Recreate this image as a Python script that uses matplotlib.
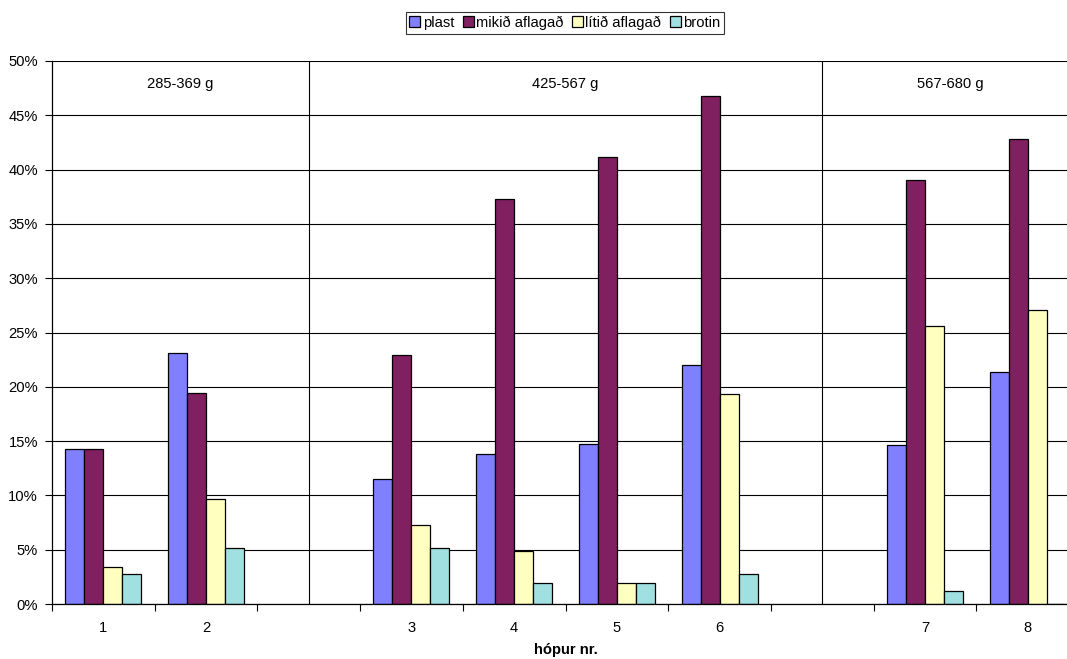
import matplotlib
matplotlib.use("Agg")
import matplotlib.pyplot as plt
from matplotlib.ticker import PercentFormatter, FixedLocator, NullFormatter
import numpy as np

# Category slots along the x axis; empty strings are spacer slots between weight classes
slots = ["1", "2", "", "3", "4", "5", "6", "", "7", "8"]
groups = ["1", "2", "3", "4", "5", "6", "7", "8"]

# Share of fish per condition (%)
plast = [14.3, 23.1, 11.5, 13.8, 14.7, 22.0, 14.6, 21.4]
mikid = [14.3, 19.4, 22.9, 37.3, 41.2, 46.8, 39.0, 42.8]
litid = [3.4, 9.7, 7.3, 4.9, 1.9, 19.3, 25.6, 27.1]
brotin = [2.8, 5.2, 5.2, 1.9, 1.9, 2.8, 1.2, 0.0]

series_names = ["plast", "mikið aflagað", "lítið aflagað", "brotin"]
series_colors = ["#8080FF", "#802060", "#FFFFC0", "#A0E0E0"]
weight_classes = ["285-369 g", "425-567 g", "567-680 g"]

plt.rcParams["font.family"] = ["Liberation Sans", "DejaVu Sans"]

fig = plt.figure(figsize=(10.67, 6.59), dpi=100)
ax = fig.add_axes([52 / 1067, 1 - 604 / 659, (1079 - 52) / 1067, (604 - 61) / 659])

slot_pos = np.arange(len(slots))
group_pos = np.array([i for i, s in enumerate(slots) if s != ""])
spacers = [i for i, s in enumerate(slots) if s == ""]

bw = 0.185
data = [plast, mikid, litid, brotin]
for k, (vals, name, col) in enumerate(zip(data, series_names, series_colors)):
    offs = (k - 1.5) * bw
    ax.bar(group_pos + offs, vals, width=bw, color=col, edgecolor="black",
           linewidth=0.9, label=name, zorder=3)

ax.set_xlim(-0.5, len(slots) - 0.5)
ax.set_ylim(0, 50)

# horizontal gridlines
ax.yaxis.grid(True, color="black", linewidth=0.8, zorder=1)
ax.set_axisbelow(True)

# vertical separators between weight classes
for s in spacers:
    ax.axvline(s, color="black", linewidth=0.8, zorder=1)

# weight class labels centred in each section
bounds = [-0.5] + spacers + [len(slots) - 0.5]
for lab, a, b in zip(weight_classes, bounds[:-1], bounds[1:]):
    ax.text((a + b) / 2, 47.9, lab, ha="center", va="center", fontsize=10.6, zorder=4)

ax.yaxis.set_major_locator(FixedLocator(np.arange(0, 51, 5)))
ax.yaxis.set_major_formatter(PercentFormatter(100, decimals=0))
ax.tick_params(axis="y", direction="out", length=5, width=0.8, pad=5, labelsize=10.6)

ax.xaxis.set_major_locator(FixedLocator(np.arange(-0.5, len(slots), 1.0)))
ax.xaxis.set_major_formatter(NullFormatter())
ax.xaxis.set_minor_locator(FixedLocator(slot_pos))
ax.set_xticklabels(slots, minor=True)
ax.tick_params(axis="x", which="major", direction="out", length=5, width=0.8)
ax.tick_params(axis="x", which="minor", length=0, pad=12, labelsize=10.6)

ax.set_xlabel("hópur nr.", fontweight="bold", fontsize=10.6, labelpad=6)

for sp in ["top", "right"]:
    ax.spines[sp].set_visible(False)
for sp in ["left", "bottom"]:
    ax.spines[sp].set_color("black")
    ax.spines[sp].set_linewidth(0.9)
    ax.spines[sp].set_zorder(5)

leg = fig.legend(loc="upper center", bbox_to_anchor=(565 / 1067, 1 - 12 / 659), ncol=4,
                 fontsize=10.6, frameon=True, fancybox=False, edgecolor="black",
                 handlelength=0.75, handleheight=0.75, handletextpad=0.15,
                 columnspacing=0.6, borderpad=0.25, borderaxespad=0)
leg.get_frame().set_linewidth(0.8)

fig.savefig("out.png", dpi=100)
